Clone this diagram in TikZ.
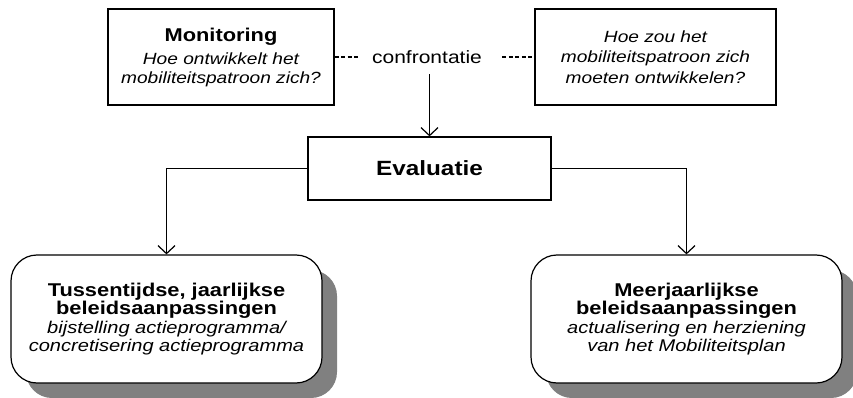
\documentclass[tikz,border=0pt]{standalone}
\usepackage{fontspec}
\usepackage{tikz}
\usetikzlibrary{arrows.meta,shadows}
\setmainfont{Liberation Sans}[FakeStretch=1.18]

\begin{document}
\begin{tikzpicture}[x=1pt,y=-1pt,line width=1.2pt,
		box/.style={draw, rectangle, align=center, inner sep=0pt},
		roundbox/.style={draw, fill=white, rounded corners=26pt, align=center, inner sep=0pt,
			minimum width=311pt, minimum height=128pt, font=\fontsize{17}{18.5}\selectfont,
			drop shadow={shadow xshift=15pt, shadow yshift=-15pt, fill=black!50, opacity=1}},
		link/.style={-{Straight Barb[length=8pt,width=17pt]}},
		dashlink/.style={dash pattern=on 4pt off 2.5pt}]
		\useasboundingbox (0,0) rectangle (853,398);

		\node[box, minimum width=226pt, minimum height=96pt, font=\fontsize{16.2}{19}\selectfont] (monitor) at (221,57)
			{{\bfseries\fontsize{18.5}{19}\selectfont Monitoring}\\[4pt]\itshape Hoe ontwikkelt het\\\itshape mobiliteitspatroon zich?};
		\node[box, minimum width=241pt, minimum height=96pt, font=\fontsize{16.2}{20.5}\selectfont\itshape] (norm) at (655.5,57)
			{Hoe zou het\\mobiliteitspatroon zich\\moeten ontwikkelen?};
		\node[inner sep=0pt, font=\fontsize{17.8}{20}\selectfont] (conf) at (427,57) {confrontatie};

		\node[box, minimum width=243pt, minimum height=63pt, font=\bfseries\fontsize{20.6}{24}\selectfont] (eval) at (429.5,168.5) {Evaluatie};

		% beleidsaanpassingen
		\node[roundbox] (tussen) at (166.5,319)
			{{\bfseries\fontsize{18.5}{19}\selectfont Tussentijdse, jaarlijkse}\\{\bfseries\fontsize{18.5}{19}\selectfont beleidsaanpassingen}\\\itshape bijstelling actieprogramma/\\\itshape concretisering actieprogramma};
		\node[roundbox] (meer) at (686.5,319)
			{{\bfseries\fontsize{18.5}{19}\selectfont Meerjaarlijkse}\\{\bfseries\fontsize{18.5}{19}\selectfont beleidsaanpassingen}\\\itshape actualisering en herziening\\\itshape van het Mobiliteitsplan};

		\draw[dashlink, shorten >=13pt] (monitor.east) -- (conf.west);
		\draw[dashlink, shorten <=20pt] (conf.east) -- (norm.west);
		\draw[link, shorten <=10pt] (conf.south -| eval.north) -- (eval.north);
		\draw[link] (eval.west) -| (tussen.north);
		\draw[link] (eval.east) -| (meer.north);
		\end{tikzpicture}
\end{document}
